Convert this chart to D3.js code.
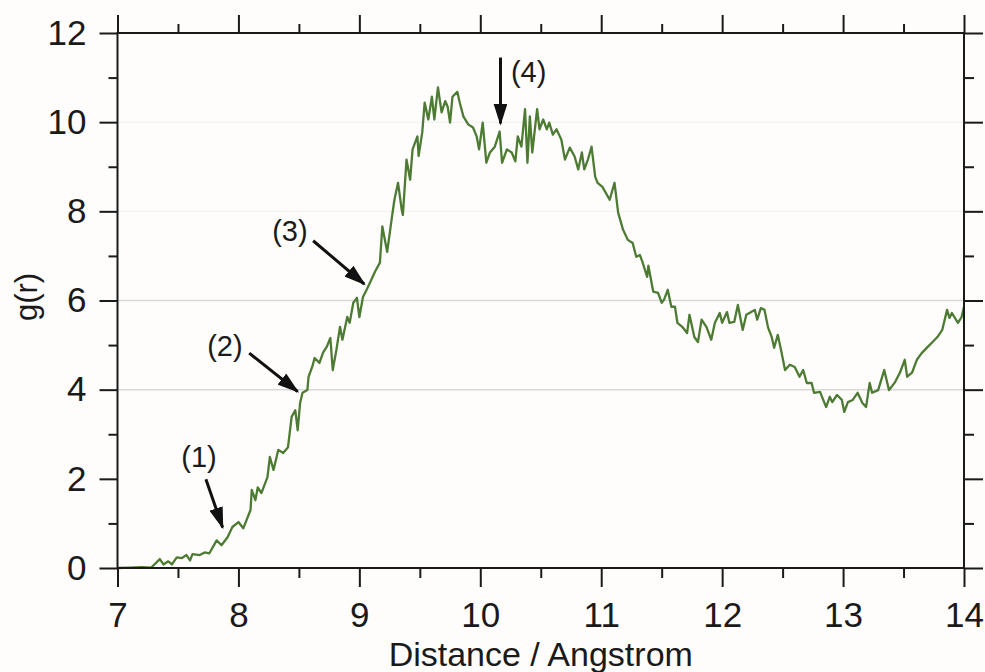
<!DOCTYPE html>
<html lang="en">
<head>
<meta charset="UTF-8">
<title>g(r)</title>
<script src="https://d3js.org/d3.v7.min.js"></script>
<style>
    body { margin: 0; background: #fefdfc; }
    svg { display: block; font-family: 'Liberation Sans', Arial, sans-serif; }
    .axis text { font-size: 35px; fill: #1a1a1a; }
    .axis line { stroke: #1a1a1a; stroke-width: 2px; }
</style>
</head>
<body>
<div id="chart"></div>
<script>
// rising part, 7 - 9.2 A
const riseData = [
    [7.00, 0], [7.10, 0.01], [7.20, 0.02], [7.28, 0.01], [7.35, 0.20], [7.38, 0.08], [7.42, 0.15],
    [7.45, 0.08], [7.49, 0.24], [7.53, 0.22], [7.57, 0.29], [7.60, 0.17], [7.62, 0.31], [7.68, 0.29],
    [7.72, 0.35], [7.76, 0.33], [7.82, 0.62], [7.86, 0.51], [7.91, 0.69], [7.95, 0.92], [8.00, 1.03],
    [8.04, 0.89], [8.10, 1.30], [8.11, 1.75], [8.14, 1.52], [8.16, 1.81], [8.19, 1.68], [8.24, 2.04],
    [8.26, 2.49], [8.29, 2.20], [8.33, 2.65], [8.37, 2.58], [8.41, 2.71], [8.44, 3.39], [8.47, 3.54],
    [8.49, 3.09], [8.51, 3.70], [8.53, 3.93], [8.57, 3.99], [8.58, 4.29], [8.61, 4.51], [8.63, 4.71],
    [8.67, 4.60], [8.70, 4.83], [8.73, 4.96], [8.76, 5.16], [8.78, 4.44], [8.81, 4.89], [8.84, 5.41],
    [8.86, 5.12], [8.90, 5.63], [8.92, 5.50], [8.95, 5.95], [8.98, 6.06], [9.00, 5.63], [9.03, 6.08],
    [9.06, 6.24], [9.10, 6.47], [9.13, 6.65], [9.17, 6.85]
];
// first peak, 9.2 - 11.3 A
const peakData = [
    [9.19, 7.66], [9.23, 7.09], [9.27, 7.88], [9.29, 8.26], [9.32, 8.64], [9.35, 8.04], [9.36, 7.92],
    [9.39, 9.16], [9.42, 8.71], [9.44, 9.39], [9.48, 9.68], [9.49, 9.24], [9.52, 9.77], [9.54, 10.44],
    [9.57, 10.06], [9.60, 10.57], [9.62, 10.06], [9.65, 10.78], [9.68, 10.22], [9.71, 10.47], [9.73, 10.35],
    [9.75, 9.99], [9.77, 10.57], [9.81, 10.68], [9.83, 10.44], [9.86, 10.13], [9.90, 9.95], [9.94, 9.88],
    [9.97, 9.68], [9.99, 9.39], [10.02, 9.99], [10.05, 9.09], [10.08, 9.32], [10.12, 9.45], [10.16, 9.79],
    [10.18, 9.09], [10.22, 9.39], [10.26, 9.32], [10.29, 9.12], [10.31, 9.68], [10.34, 9.45], [10.37, 10.29],
    [10.39, 9.09], [10.41, 10.13], [10.43, 9.32], [10.47, 10.29], [10.49, 9.84], [10.52, 10.06], [10.55, 9.84],
    [10.57, 9.99], [10.60, 9.72], [10.63, 9.84], [10.67, 9.61], [10.70, 9.16], [10.74, 9.43], [10.78, 9.23],
    [10.81, 8.94], [10.84, 9.32], [10.86, 8.94], [10.89, 9.16], [10.92, 9.45], [10.95, 8.78], [10.97, 8.64],
    [11.01, 8.55], [11.07, 8.26], [11.11, 8.64], [11.14, 7.97], [11.18, 7.59], [11.22, 7.36], [11.26, 7.29],
    [11.29, 6.98]
];
// shoulder, minimum and tail, 11.3 - 14 A
const tailData = [
    [11.32, 7.02], [11.34, 6.87], [11.38, 6.53], [11.39, 6.78], [11.43, 6.20], [11.47, 6.17], [11.50, 5.95],
    [11.52, 6.02], [11.55, 6.24], [11.58, 5.86], [11.61, 5.86], [11.63, 5.50], [11.67, 5.41], [11.71, 5.27],
    [11.73, 5.68], [11.77, 5.18], [11.80, 5.07], [11.83, 5.57], [11.87, 5.41], [11.91, 5.12], [11.94, 5.50],
    [11.98, 5.72], [12.00, 5.50], [12.04, 5.74], [12.06, 5.50], [12.10, 5.52], [12.13, 5.90], [12.17, 5.34],
    [12.20, 5.68], [12.24, 5.74], [12.27, 5.79], [12.29, 5.57], [12.32, 5.83], [12.35, 5.79], [12.38, 5.39],
    [12.41, 5.18], [12.43, 4.94], [12.46, 5.23], [12.49, 4.85], [12.52, 4.44], [12.56, 4.56], [12.60, 4.51],
    [12.64, 4.29], [12.67, 4.44], [12.70, 4.15], [12.74, 4.15], [12.76, 3.93], [12.81, 3.95], [12.83, 3.81],
    [12.86, 3.61], [12.89, 3.84], [12.91, 3.72], [12.95, 3.88], [12.99, 3.77], [13.01, 3.50], [13.04, 3.72],
    [13.08, 3.77], [13.12, 3.93], [13.16, 3.70], [13.19, 3.61], [13.22, 4.15], [13.24, 3.93], [13.29, 3.99],
    [13.34, 4.44], [13.38, 3.99], [13.43, 4.17], [13.47, 4.38], [13.51, 4.67], [13.53, 4.29], [13.57, 4.38],
    [13.61, 4.67], [13.65, 4.82], [13.70, 4.96], [13.74, 5.07], [13.78, 5.18], [13.82, 5.34], [13.86, 5.79],
    [13.88, 5.61], [13.90, 5.72], [13.95, 5.50], [13.98, 5.63], [14.00, 5.86]
];

const xTicks = [7, 8, 9, 10, 11, 12, 13, 14];
const xMinor = [7.5, 8.5, 9.5, 10.5, 11.5, 12.5, 13.5];
const yTicks = [0, 2, 4, 6, 8, 10, 12];
const yMinor = [1, 3, 5, 7, 9, 11];

// labels: text position, arrow start, arrow tip (data units)
const labels = ['(1)', '(2)', '(3)', '(4)'];
const labelPos = [[7.674, 2.26], [7.888, 4.76], [8.426, 7.34], [10.40, 10.89]];
const arrowFrom = [[7.731, 1.99], [8.089, 4.82], [8.618, 7.34], [10.167, 11.45]];
const arrowTo = [[7.869, 0.91], [8.489, 3.96], [9.040, 6.37], [10.167, 9.97]];

const width = 985, height = 672;
const margin = { top: 33, right: 21, bottom: 104, left: 117.5 };
const w = width - margin.left - margin.right;
const h = height - margin.top - margin.bottom;

const svg = d3.select('#chart').append('svg')
    .attr('width', width)
    .attr('height', height);

svg.append('rect').attr('width', width).attr('height', height).attr('fill', '#fefdfc');

const g = svg.append('g').attr('transform', `translate(${margin.left},${margin.top})`);

const x = d3.scaleLinear().domain([7, 14]).range([0, w]);
const y = d3.scaleLinear().domain([0, 12]).range([h, 0]);

// grid lines (4 and 6 are darker in the original)
g.selectAll('.grid')
    .data([4, 6, 8, 10])
    .enter().append('line')
    .attr('x1', 0).attr('x2', w)
    .attr('y1', d => y(d)).attr('y2', d => y(d))
    .attr('stroke', d => d <= 6 ? '#d9d9d9' : '#efefef')
    .attr('stroke-width', d => d <= 6 ? 1.5 : 1);

// data line
const line = d3.line().x(d => x(d[0])).y(d => y(d[1]));
g.append('path')
    .datum(riseData.concat(peakData, tailData))
    .attr('fill', 'none')
    .attr('stroke', '#4d7b33')
    .attr('stroke-width', 2.3)
    .attr('stroke-linejoin', 'round')
    .attr('d', line);

// axes
function addAxis(axis, transform) {
    const a = g.append('g').attr('class', 'axis').attr('transform', transform).call(axis);
    a.select('.domain').remove();
    return a;
}
addAxis(d3.axisBottom(x).tickValues(xTicks).tickSize(19).tickPadding(15).tickFormat(d3.format('d')), `translate(0,${h})`);
addAxis(d3.axisBottom(x).tickValues(xMinor).tickSize(10).tickFormat(''), `translate(0,${h})`);
addAxis(d3.axisTop(x).tickValues(xTicks).tickSize(18).tickFormat(''), 'translate(0,0)');
addAxis(d3.axisTop(x).tickValues(xMinor).tickSize(9).tickFormat(''), 'translate(0,0)');
addAxis(d3.axisLeft(y).tickValues(yTicks).tickSize(18).tickPadding(13).tickFormat(d3.format('d')), 'translate(0,0)');
addAxis(d3.axisLeft(y).tickValues(yMinor).tickSize(9).tickFormat(''), 'translate(0,0)');
addAxis(d3.axisRight(y).tickValues(yTicks).tickSize(19).tickFormat(''), `translate(${w},0)`);
addAxis(d3.axisRight(y).tickValues(yMinor).tickSize(10).tickFormat(''), `translate(${w},0)`);

// frame
g.append('rect')
    .attr('width', w).attr('height', h)
    .attr('fill', 'none')
    .attr('stroke', '#1a1a1a')
    .attr('stroke-width', 2);

// axis titles
svg.append('text')
    .attr('x', margin.left + w / 2)
    .attr('y', 666)
    .attr('text-anchor', 'middle')
    .attr('fill', '#1a1a1a')
    .style('font-size', '34px')
    .text('Distance / Angstrom');

svg.append('text')
    .attr('transform', 'translate(37,297) rotate(-90)')
    .attr('text-anchor', 'middle')
    .attr('fill', '#1a1a1a')
    .style('font-size', '31px')
    .text('g(r)');

// annotation arrows
svg.append('defs').append('marker')
    .attr('id', 'head')
    .attr('viewBox', '0 0 22 14')
    .attr('refX', 20).attr('refY', 7)
    .attr('markerWidth', 22).attr('markerHeight', 14)
    .attr('markerUnits', 'userSpaceOnUse')
    .attr('orient', 'auto')
    .append('path')
    .attr('d', 'M0,0 L22,7 L0,14 Z')
    .attr('fill', '#111');

labels.forEach((lab, i) => {
    g.append('line')
        .attr('x1', x(arrowFrom[i][0])).attr('y1', y(arrowFrom[i][1]))
        .attr('x2', x(arrowTo[i][0])).attr('y2', y(arrowTo[i][1]))
        .attr('stroke', '#111')
        .attr('stroke-width', 3)
        .attr('marker-end', 'url(#head)');
    g.append('text')
        .attr('x', x(labelPos[i][0]))
        .attr('y', y(labelPos[i][1]))
        .attr('text-anchor', 'middle')
        .attr('fill', '#1a1a1a')
        .style('font-size', '29px')
        .text(lab);
});
</script>
</body>
</html>
